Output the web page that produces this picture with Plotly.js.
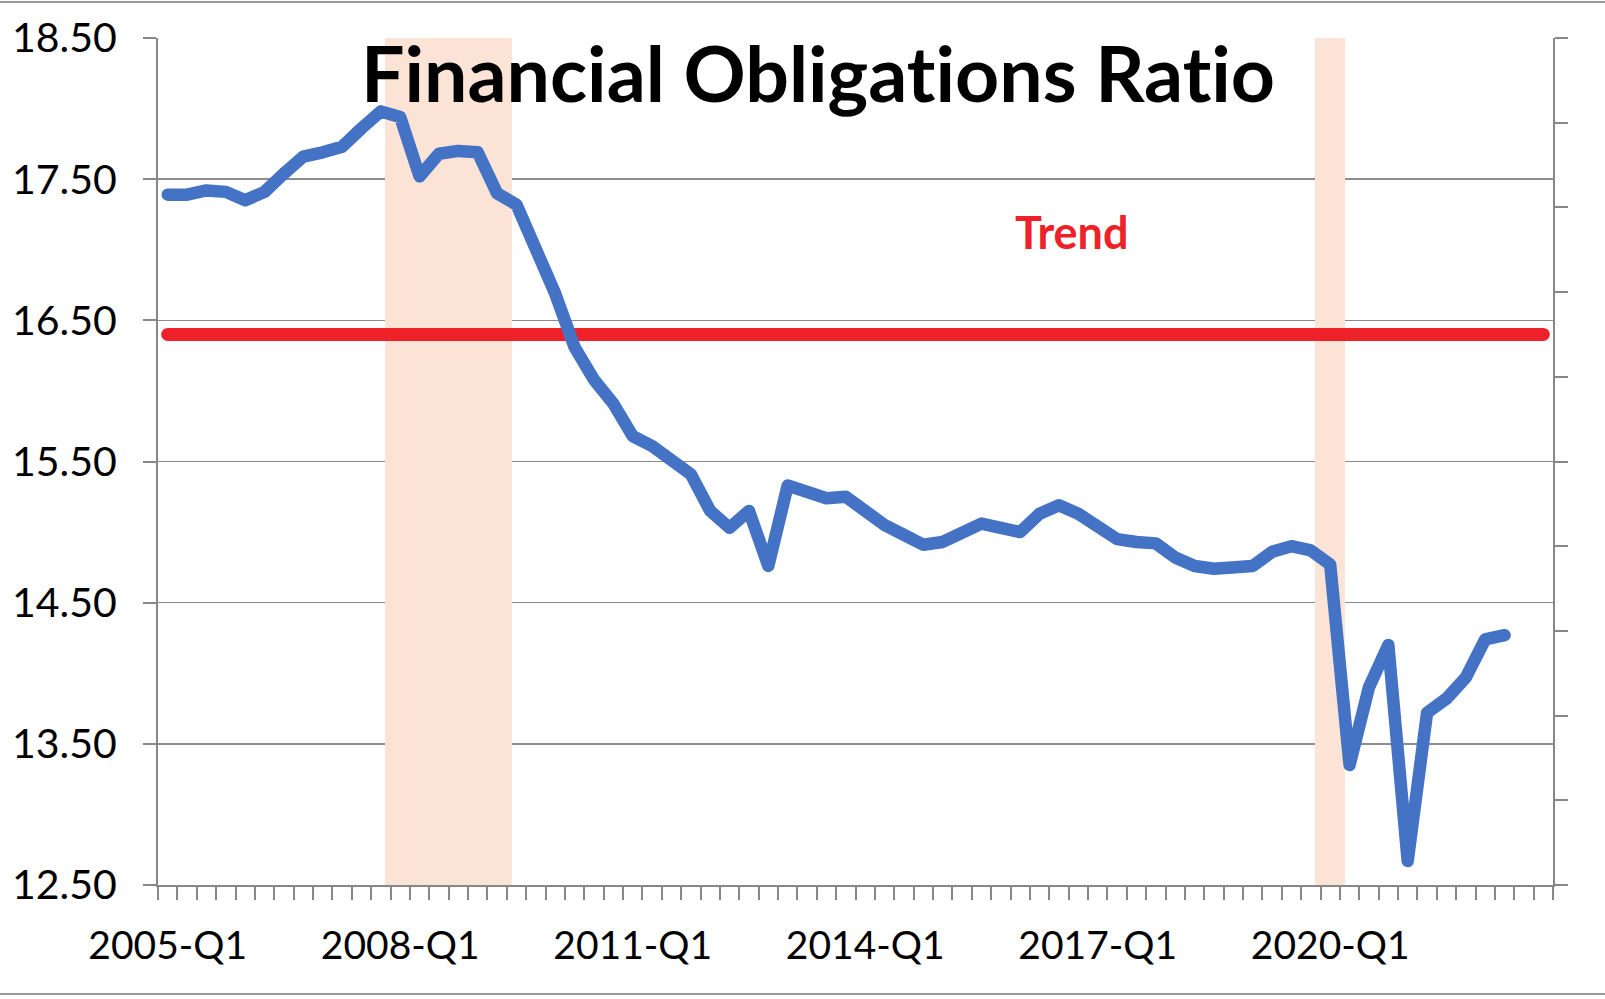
<!DOCTYPE html>
<html>
<head>
<meta charset="utf-8">
<script src="https://cdn.plot.ly/plotly-3.0.1.min.js"></script>
<style>
  html, body { margin: 0; padding: 0; background: #ffffff; }
  #wrap { position: relative; width: 1605px; height: 999px; }
  #chart { width: 1605px; height: 999px; }
  #frame { position: absolute; left: 0; top: 1px; width: 1605px; height: 994px;
           border-top: 2px solid #9a9a9a; border-bottom: 2px solid #9a9a9a;
           box-sizing: border-box; pointer-events: none; }
  .js-line { stroke-linecap: round !important; stroke-linejoin: round !important; }
  text { font-variant-ligatures: none; font-feature-settings: "liga" 0; }
</style>
</head>
<body>
<div id="wrap">
  <div id="chart"></div>
  <div id="frame"></div>
</div>
<script>
// Quarter categories on the x axis
var categories = [
  '2005-Q1','2005-Q2','2005-Q3','2005-Q4','2006-Q1','2006-Q2','2006-Q3','2006-Q4',
  '2007-Q1','2007-Q2','2007-Q3','2007-Q4','2008-Q1','2008-Q2','2008-Q3','2008-Q4',
  '2009-Q1','2009-Q2','2009-Q3','2009-Q4','2010-Q1','2010-Q2','2010-Q3','2010-Q4',
  '2011-Q1','2011-Q2','2011-Q3','2011-Q4','2012-Q1','2012-Q2','2012-Q3','2012-Q4',
  '2013-Q1','2013-Q2','2013-Q3','2013-Q4','2014-Q1','2014-Q2','2014-Q3','2014-Q4',
  '2015-Q1','2015-Q2','2015-Q3','2015-Q4','2016-Q1','2016-Q2','2016-Q3','2016-Q4',
  '2017-Q1','2017-Q2','2017-Q3','2017-Q4','2018-Q1','2018-Q2','2018-Q3','2018-Q4',
  '2019-Q1','2019-Q2','2019-Q3','2019-Q4','2020-Q1','2020-Q2','2020-Q3','2020-Q4',
  '2021-Q1','2021-Q2','2021-Q3','2021-Q4','2022-Q1','2022-Q2','2022-Q3','2022-Q4'
];

// Financial obligations ratio, 2005-Q1 .. 2022-Q2
var forQuarters = categories.slice(0, 70);
var forValues = [
  17.39, 17.39, 17.42, 17.41, 17.35, 17.41, 17.54, 17.66,
  17.69, 17.73, 17.86, 17.98, 17.94, 17.52, 17.68, 17.70,
  17.69, 17.40, 17.32, 17.02, 16.69, 16.31, 16.08, 15.91,
  15.68, 15.61, 15.50, 15.41, 15.15, 15.03, 15.15, 14.76,
  15.33, 15.28, 15.24, 15.25, 15.15, 15.05, 14.98, 14.91,
  14.93, 14.99, 15.06, 15.03, 15.00, 15.13, 15.19, 15.13,
  15.03, 14.95, 14.93, 14.92, 14.82, 14.76, 14.74, 14.74,
  14.76, 14.86, 14.90, 14.87, 14.77, 13.35, 13.90, 14.20,
  12.67, 13.72, 13.82, 13.97, 14.24, 14.27
];

// Trend level (horizontal)
var trendQuarters = ['2005-Q1', '2022-Q4'];
var trendValues = [16.40, 16.40];

// Recession shading (right-hand axis, full height)
var recessionQuarters = ['2008-Q1','2008-Q2','2008-Q3','2008-Q4','2009-Q1','2009-Q2','2020-Q1'];
var recessionValues = [1, 1, 1, 1, 1, 1, 1];

// Tick labels
var xTickLabels = ['2005-Q1','2008-Q1','2011-Q1','2014-Q1','2017-Q1','2020-Q1'];
var yTickValues = [12.5, 13.5, 14.5, 15.5, 16.5, 17.5, 18.5];

var xTickText = categories.map(function (c) { return xTickLabels.indexOf(c) >= 0 ? c : ''; });
var yTickText = yTickValues.map(function (v) { return v.toFixed(2); });

var FONT = 'Lato, "Open Sans", sans-serif';
var GRID = '#8c8c8c';
var AXIS = '#878787';

var traces = [
  {
    type: 'bar', x: recessionQuarters, y: recessionValues, yaxis: 'y',
    width: 1.55, marker: { color: '#fbe4d5', line: { width: 0 } },
    hoverinfo: 'skip', showlegend: false
  },
  {
    type: 'scatter', mode: 'lines', x: trendQuarters, y: trendValues, yaxis: 'y2',
    line: { color: '#ee2129', width: 13 }, hoverinfo: 'skip', showlegend: false
  },
  {
    type: 'scatter', mode: 'lines', x: forQuarters, y: forValues, yaxis: 'y2',
    line: { color: '#4472c4', width: 12.5 }, showlegend: false
  }
];

var layout = {
  width: 1605, height: 999,
  margin: { l: 158, r: 52, t: 38, b: 114, pad: 0 },
  paper_bgcolor: '#ffffff', plot_bgcolor: '#ffffff',
  font: { family: FONT, color: '#000000', size: 39 },
  showlegend: false,
  bargap: 0,
  xaxis: {
    type: 'category', categoryorder: 'array', categoryarray: categories,
    range: [-0.5, 71.5], fixedrange: true,
    tickmode: 'array', tickvals: categories, ticktext: xTickText,
    tickson: 'boundaries', tickangle: 0,
    ticks: 'outside', ticklen: 13, tickwidth: 2, tickcolor: AXIS,
    showgrid: false, showline: true, linecolor: AXIS, linewidth: 2,
    tickfont: { family: FONT, size: 39, color: '#000000' },
    ticklabelstandoff: 25,
    zeroline: false
  },
  // right-hand axis carrying the recession shading
  yaxis: {
    side: 'right', range: [0, 1], fixedrange: true,
    tickmode: 'linear', tick0: 0, dtick: 0.1,
    ticks: 'outside', ticklen: 13, tickwidth: 2, tickcolor: AXIS,
    showticklabels: false, showgrid: false, zeroline: false,
    showline: true, linecolor: AXIS, linewidth: 2
  },
  // left-hand value axis
  yaxis2: {
    overlaying: 'y', side: 'left', range: [12.5, 18.5], fixedrange: true,
    tickmode: 'array', tickvals: yTickValues, ticktext: yTickText,
    ticks: 'outside', ticklen: 13, tickwidth: 2, tickcolor: AXIS,
    showgrid: true, gridcolor: GRID, gridwidth: 1.5,
    showline: true, linecolor: AXIS, linewidth: 2,
    tickfont: { family: FONT, size: 41, color: '#000000' },
    ticklabelstandoff: 18,
    zeroline: false
  },
  annotations: [
    {
      text: '<b>Financial Obligations Ratio</b>', showarrow: false,
      xref: 'paper', yref: 'paper',
      x: (818 - 158) / 1395, y: (885.4 - 72) / 847.5,
      xanchor: 'center', yanchor: 'middle',
      font: { family: FONT, size: 77, color: '#000000' }
    },
    {
      text: '<b>Trend</b>', showarrow: false,
      xref: 'paper', yref: 'paper',
      x: (1072 - 158) / 1395, y: (885.4 - 232) / 847.5,
      xanchor: 'center', yanchor: 'middle',
      font: { family: FONT, size: 45, color: '#ee2129' }
    }
  ]
};

Plotly.newPlot('chart', traces, layout, { staticPlot: true, displayModeBar: false });
</script>
</body>
</html>
